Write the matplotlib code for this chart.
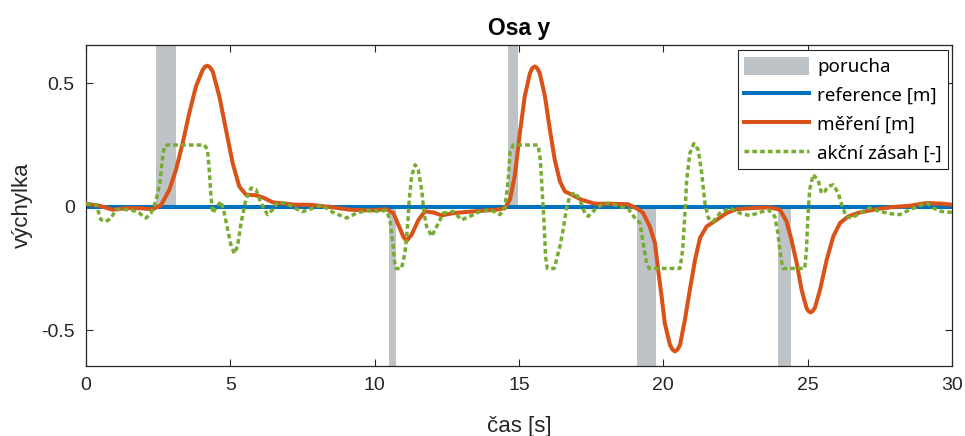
import matplotlib
matplotlib.use("Agg")
import matplotlib.pyplot as plt
from matplotlib.patches import Patch
from matplotlib.lines import Line2D

plt.rcParams['axes.unicode_minus'] = False

# ---- data ----
t_meas = [0, 0.46, 0.92, 1.39, 1.85, 2.31, 2.6, 2.89, 3.12, 3.35, 3.58, 3.81, 4.04, 4.12, 4.21, 4.3,
          4.39, 4.62, 4.85, 5.08, 5.31, 5.54, 5.89, 6.12, 6.47, 6.93, 7.27, 7.76, 8.45, 9.14, 9.84,
          10.41, 10.65, 10.82, 11.0, 11.11, 11.28, 11.52, 11.74, 12.03, 12.32, 12.72, 13.42,
          14.22, 14.51, 14.69, 14.86, 15.03, 15.2, 15.38, 15.46, 15.55, 15.63, 15.72, 15.9, 16.07,
          16.24, 16.42, 16.59, 16.82, 17.17, 17.63, 18.2, 18.78, 19.13, 19.3, 19.53, 19.71, 19.82,
          19.94, 20.05, 20.23, 20.32, 20.4, 20.49, 20.58, 20.75, 20.92, 21.1, 21.27, 21.5, 21.85,
          22.19, 22.54, 23.12, 23.69, 24.04, 24.27, 24.44, 24.62, 24.79, 24.96, 25.03, 25.1, 25.17,
          25.25, 25.43, 25.66, 25.89, 26.12, 26.41, 26.81, 27.39, 27.96, 28.54, 29.12, 29.69, 30.0]
y_meas = [0.012, 0.004, -0.012, -0.006, -0.006, -0.01, 0.006, 0.069, 0.15, 0.258, 0.38, 0.487,
          0.553, 0.567, 0.571, 0.564, 0.548, 0.447, 0.312, 0.177, 0.082, 0.049, 0.046, 0.038,
          0.018, 0.012, 0.008, 0.008, -0.001, -0.012, -0.015, -0.01, -0.026, -0.073, -0.123,
          -0.138, -0.113, -0.053, -0.019, -0.023, -0.035, -0.026, -0.019, -0.012, -0.006, 0.03,
          0.13, 0.298, 0.447, 0.541, 0.561, 0.568, 0.561, 0.541, 0.447, 0.312, 0.19, 0.102,
          0.062, 0.049, 0.028, 0.012, 0.012, 0.01, -0.01, -0.025, -0.08, -0.147, -0.255, -0.363,
          -0.471, -0.559, -0.579, -0.586, -0.579, -0.559, -0.457, -0.336, -0.215, -0.127, -0.08,
          -0.053, -0.026, -0.01, -0.005, -0.003, -0.012, -0.06, -0.134, -0.228, -0.336, -0.41,
          -0.423, -0.428, -0.423, -0.41, -0.336, -0.215, -0.12, -0.066, -0.039, -0.023, -0.01,
          -0.001, 0.004, 0.015, 0.012, 0.008]

t_act = [0, 0.35, 0.52, 0.69, 0.87, 1.04, 1.27, 1.62, 1.85, 2.08, 2.25, 2.42, 2.56, 2.63, 2.71,
         2.83, 4.1, 4.21, 4.27, 4.33, 4.39, 4.5, 4.68, 4.79, 4.91, 5.02, 5.14, 5.25, 5.37, 5.54,
         5.72, 5.89, 6.06, 6.29, 6.47, 6.64, 6.93, 7.22, 7.5, 8.16, 8.56, 9.03, 9.37, 9.72,
         10.18, 10.41, 10.53, 10.62, 10.68, 10.74, 10.93, 11.05, 11.13, 11.2, 11.28, 11.4,
         11.51, 11.63, 11.71, 11.8, 11.98, 12.09, 12.21, 12.38, 12.72, 13.01, 13.3, 13.65,
         14.0, 14.34, 14.51, 14.63, 14.69, 14.8, 15.66, 15.74, 15.8, 15.87, 15.92, 15.98,
         16.22, 16.42, 16.53, 16.65, 16.76, 16.94, 17.11, 17.28, 17.4, 17.63, 17.86, 18.09,
         18.43, 18.78, 19.02, 19.19, 19.3, 19.42, 19.51, 20.58, 20.67, 20.75, 20.81, 20.92,
         21.06, 21.21, 21.33, 21.44, 21.56, 21.73, 21.96, 22.31, 22.65, 23.0, 23.35, 23.63,
         23.86, 23.97, 24.05, 24.14, 24.9, 24.96, 25.01, 25.07, 25.19, 25.36, 25.48, 25.59,
         25.71, 25.89, 26.06, 26.18, 26.33, 26.52, 26.81, 27.16, 27.5, 27.85, 28.19, 28.42,
         28.77, 29.12, 29.35, 29.63, 30.0]
y_act = [0.012, 0.008, -0.053, -0.06, -0.046, -0.012, -0.01, -0.015, -0.026, -0.046, -0.026,
         0.022, 0.096, 0.177, 0.244, 0.25, 0.25, 0.231, 0.15, 0.042, -0.026, -0.005, 0.022,
         -0.026, -0.093, -0.154, -0.19, -0.16, -0.066, 0.028, 0.076, 0.069, 0.015, -0.032,
         -0.012, 0.018, 0.015, -0.005, -0.02, 0.006, -0.023, -0.046, -0.026, -0.015, -0.019,
         -0.015, -0.053, -0.134, -0.215, -0.25, -0.25, -0.188, -0.093, 0.028, 0.123, 0.17,
         0.15, 0.069, -0.026, -0.08, -0.12, -0.093, -0.066, -0.026, -0.019, -0.053, -0.039,
         -0.019, -0.012, -0.032, -0.005, 0.11, 0.22, 0.25, 0.25, 0.19, 0.069, -0.066, -0.201,
         -0.25, -0.25, -0.16, -0.093, -0.005, 0.042, 0.058, 0.028, -0.026, -0.039, -0.012,
         0.008, 0.015, 0.004, -0.008, -0.046, -0.066, -0.147, -0.228, -0.25, -0.25, -0.174,
         -0.026, 0.109, 0.217, 0.256, 0.231, 0.136, 0.015, -0.046, -0.06, -0.026, -0.005,
         -0.026, -0.036, -0.023, -0.012, -0.039, -0.107, -0.188, -0.25, -0.25, -0.174, -0.039,
         0.069, 0.13, 0.109, 0.055, 0.062, 0.082, 0.089, 0.055, 0.008, -0.039, -0.046, -0.026,
         -0.005, -0.019, -0.028, -0.032, -0.019, -0.001, 0.015, -0.005, -0.019, -0.023]

t_ref = [0, 30]
y_ref = [0, 0]

fault_start = [2.42, 10.5, 14.62, 19.08, 23.97]
fault_end = [3.12, 10.74, 14.96, 19.74, 24.42]
fault_sign = [1, -1, 1, -1, -1]

x_ticks = [0, 5, 10, 15, 20, 25, 30]
y_ticks = [-0.5, 0, 0.5]
y_ticklabels = ['-0.5', '0', '0.5']

labels = ['porucha', 'reference [m]', 'měření [m]', 'akční zásah [-]']

# ---- style ----
c_band = '#bec3c8'
c_ref = '#0072BD'
c_meas = '#D95319'
c_act = '#77AC30'
c_axis = '#262626'
dot_style = (0, (1.35, 0.9))

fig = plt.figure(figsize=(9.65, 4.36), dpi=100)
ax = fig.add_axes([0.0891, 0.1606, 0.8974, 0.7362])

for s, e, sg in zip(fault_start, fault_end, fault_sign):
    ax.bar(s, sg * 1.0, width=e - s, bottom=0, align='edge', color=c_band,
           edgecolor='none', zorder=1)

ax.plot(t_ref, y_ref, color=c_ref, lw=2.9, zorder=2)
ax.plot(t_meas, y_meas, color=c_meas, lw=2.9, zorder=3, solid_joinstyle='round',
        solid_capstyle='round')
ax.plot(t_act, y_act, color=c_act, lw=2.5, ls=dot_style, zorder=4)

ax.set_xlim(0, 30)
ax.set_ylim(-0.645, 0.655)
ax.set_xticks(x_ticks)
ax.set_yticks(y_ticks)
ax.set_yticklabels(y_ticklabels)

tick_font = 'Liberation Sans'
ax.tick_params(direction='in', length=5, width=0.8, top=True, right=True,
               colors=c_axis, labelsize=14, pad=8)
for lab in ax.get_xticklabels() + ax.get_yticklabels():
    lab.set_fontfamily(tick_font)
for sp in ax.spines.values():
    sp.set_color(c_axis)
    sp.set_linewidth(0.9)

ax.set_xlabel('čas [s]', fontsize=16, family='Liberation Sans', color=c_axis, labelpad=16)
ax.set_ylabel('výchylka', fontsize=16, family='Liberation Sans', color=c_axis, labelpad=6)
ax.set_title('Osa y', fontsize=16.5, fontweight='bold', family='Liberation Sans',
             color='black', pad=7)

handles = [Patch(facecolor=c_band, edgecolor='none'),
           Line2D([], [], color=c_ref, lw=2.9),
           Line2D([], [], color=c_meas, lw=2.9),
           Line2D([], [], color=c_act, lw=2.5, ls=dot_style)]
leg = ax.legend(handles, labels, loc='upper right', bbox_to_anchor=(0.9955, 0.984),
                borderaxespad=0, fancybox=False, framealpha=1, edgecolor=c_axis,
                prop={'family': 'Noto Sans', 'size': 13.5}, handlelength=3.45,
                handleheight=1.1, labelspacing=0.5, handletextpad=0.42,
                borderpad=0.35)
leg.get_frame().set_linewidth(0.8)

fig.savefig('out.png', dpi=100)
